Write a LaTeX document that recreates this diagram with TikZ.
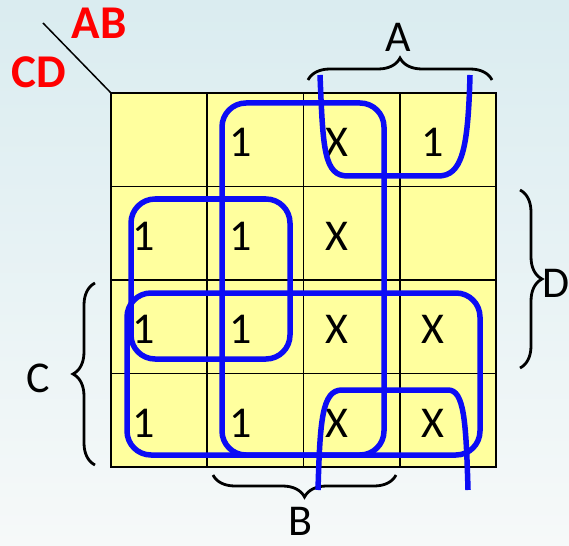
\documentclass[tikz,border=0pt]{standalone}
\usepackage{fontspec}
\setmainfont{Carlito}
\usetikzlibrary{decorations.pathreplacing}
\definecolor{kmapyellow}{RGB}{255,255,158}
\definecolor{loopblue}{RGB}{12,12,245}
\definecolor{labelred}{RGB}{255,0,0}
\definecolor{bgtop}{RGB}{218,236,240}
\definecolor{bgbottom}{RGB}{246,249,249}

\begin{document}
\begin{tikzpicture}[x=1pt,y=-1pt,
  cell/.style={draw=black,line width=1.8pt,fill=kmapyellow,minimum width=96.25pt,
    minimum height=93.5pt,inner sep=0pt,outer sep=0pt},
  val/.style={font=\fontsize{44}{44}\selectfont,inner sep=0pt},
  grp/.style={draw=loopblue,line width=5.5pt,rounded corners=24pt},
  wrap/.style={draw=loopblue,line width=5.5pt},
  brc/.style={draw=black,line width=2.8pt,decorate,decoration={brace,amplitude=22pt}},
  axis/.style={font=\fontsize{44}{44}\selectfont,inner sep=0pt},
  var/.style={font=\bfseries\fontsize{47}{47}\selectfont,text=labelred,inner sep=0pt}]

% backdrop and page size
\fill[top color=bgtop,bottom color=bgbottom] (0,0) rectangle (569,545);
\useasboundingbox (0,0) rectangle (569,545);

% Karnaugh map cells
\foreach \r in {0,...,3}{
  \foreach \c in {0,...,3}{
    \node[cell] (cell-\r-\c) at ({111+96.25*(\c+0.5)},{93+93.5*(\r+0.5)}) {};
  }
}

% cell entries
\foreach \r/\c/\v in {0/1/1,0/2/X,0/3/1,
                      1/0/1,1/1/1,1/2/X,
                      2/0/1,2/1/1,2/2/X,2/3/X,
                      3/0/1,3/1/1,3/2/X,3/3/X}{
  \node[val] (val-\r-\c) at ([xshift=-15pt,yshift=-3pt]cell-\r-\c.center) {\v};
}

% corner diagonal and variable names
\coordinate (diagA) at (43,23);
\draw[line width=1.5pt] (diagA) -- (cell-0-0.north west);
\node[var] (ab) at (99,23) {AB};
\node[var] (cd) at (39,72) {CD};

% braces with their variables
\coordinate (braceA1) at (308,80);
\coordinate (braceA2) at (492,80);
\draw[brc] (braceA1) -- (braceA2);
\node[axis] (labA) at (398,37) {A};

\coordinate (braceB1) at (396,475);
\coordinate (braceB2) at (213,475);
\draw[brc] (braceB1) -- (braceB2);
\node[axis] (labB) at (300,521) {B};

\coordinate (braceC1) at (95,465);
\coordinate (braceC2) at (95,283);
\draw[brc] (braceC1) -- (braceC2);
\node[axis] (labC) at (38,378) {C};

\coordinate (braceD1) at (520,190);
\coordinate (braceD2) at (520,368);
\draw[brc] (braceD1) -- (braceD2);
\node[axis] (labD) at (556,283) {D};

% groupings
\draw[grp] (222,103) rectangle (384,455);
\draw[grp] (131,199) rectangle (290,359);
\draw[grp] (127,293) rectangle (480,455);

% wrap-around groups at the top and bottom edges
\draw[wrap] (320,75) .. controls (323,150) and (324,176) .. (348,176)
  -- (438,176) .. controls (462,176) and (468,150) .. (470,75);
\draw[wrap] (318,490) .. controls (320,420) and (322,390) .. (342,390)
  -- (448,390) .. controls (464,390) and (466,420) .. (468,490);
\end{tikzpicture}
\end{document}
